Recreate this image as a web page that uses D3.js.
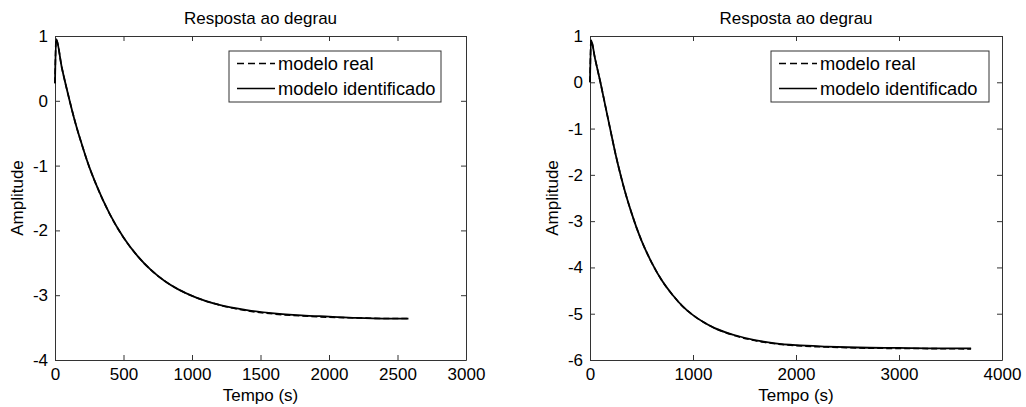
<!DOCTYPE html>
<html>
<head>
<meta charset="utf-8">
<script src="https://cdn.jsdelivr.net/npm/d3@7"></script>
<style>
  html, body { margin: 0; padding: 0; background: #fff; }
  svg { display: block; font-family: "Liberation Sans", Arial, sans-serif; }
</style>
</head>
<body>
<svg id="chart" width="1026" height="407"></svg>
<script>
// Step response, plant A: time (s) and amplitude
const timeA = [0, 8, 50, 100, 150, 200, 250, 300, 400, 500, 600, 700, 800, 900, 1000, 1200, 1400, 1600, 1800, 2000, 2200, 2400, 2580];
const realA = [0.27, 0.95, 0.51, 0.06, -0.35, -0.70, -1.02, -1.29, -1.75, -2.11, -2.39, -2.61, -2.78, -2.91, -3.01, -3.15, -3.24, -3.29, -3.32, -3.34, -3.35, -3.36, -3.36];
const identA = [0.27, 0.95, 0.51, 0.06, -0.35, -0.70, -1.02, -1.29, -1.75, -2.11, -2.39, -2.61, -2.78, -2.91, -3.01, -3.15, -3.23, -3.28, -3.31, -3.33, -3.35, -3.36, -3.36];

// Step response, plant B
const timeB = [0, 10, 50, 100, 150, 200, 250, 300, 350, 400, 450, 500, 600, 700, 800, 900, 1000, 1100, 1200, 1400, 1600, 1800, 2000, 2300, 2600, 3000, 3400, 3700];
const realB = [0.00, 0.91, 0.50, 0.01, -0.52, -1.05, -1.57, -2.03, -2.44, -2.80, -3.13, -3.42, -3.90, -4.29, -4.59, -4.84, -5.03, -5.18, -5.30, -5.47, -5.58, -5.65, -5.69, -5.72, -5.74, -5.75, -5.755, -5.76];
const identB = [0.00, 0.91, 0.50, 0.01, -0.52, -1.05, -1.57, -2.03, -2.44, -2.80, -3.13, -3.42, -3.90, -4.29, -4.59, -4.84, -5.03, -5.18, -5.30, -5.46, -5.57, -5.64, -5.68, -5.71, -5.73, -5.74, -5.75, -5.75];

// Axis ticks
const xTicksA = [0, 500, 1000, 1500, 2000, 2500, 3000];
const yTicksA = [-4, -3, -2, -1, 0, 1];
const xTicksB = [0, 1000, 2000, 3000, 4000];
const yTicksB = [-6, -5, -4, -3, -2, -1, 0, 1];

const titleText = "Resposta ao degrau";
const xLabelText = "Tempo (s)";
const yLabelText = "Amplitude";
const legendLabels = ["modelo real", "modelo identificado"];

const svg = d3.select("#chart");
const FONT = 17;
const LEGEND_FONT = 18.3;
const plainNumber = d => String(d);

function panel(opt) {
  const { left, top, width, height } = opt.box;
  const x = d3.scaleLinear().domain(d3.extent(opt.xTicks)).range([left, left + width]);
  const y = d3.scaleLinear().domain(d3.extent(opt.yTicks)).range([top + height, top]);
  const g = svg.append("g");

  // box with inward ticks on all four sides
  const styleAxis = sel => {
    sel.select(".domain").attr("stroke", "#333").attr("stroke-width", 1);
    sel.selectAll(".tick line").attr("stroke", "#333").attr("stroke-width", 1);
    sel.selectAll("text").attr("font-size", FONT).attr("fill", "#000")
      .attr("font-family", "Liberation Sans, Arial, sans-serif");
  };
  g.append("g").attr("transform", `translate(0,${top + height})`)
    .call(d3.axisBottom(x).tickValues(opt.xTicks).tickFormat(plainNumber)
      .tickSizeInner(-5).tickSizeOuter(0).tickPadding(8))
    .call(styleAxis);
  g.append("g").attr("transform", `translate(0,${top})`)
    .call(d3.axisTop(x).tickValues(opt.xTicks).tickFormat("")
      .tickSizeInner(-5).tickSizeOuter(0))
    .call(styleAxis);
  g.append("g").attr("transform", `translate(${left},0)`)
    .call(d3.axisLeft(y).tickValues(opt.yTicks).tickFormat(plainNumber)
      .tickSizeInner(-5).tickSizeOuter(0).tickPadding(7))
    .call(styleAxis);
  g.append("g").attr("transform", `translate(${left + width},0)`)
    .call(d3.axisRight(y).tickValues(opt.yTicks).tickFormat("")
      .tickSizeInner(-5).tickSizeOuter(0))
    .call(styleAxis);

  // curves
  const line = d3.line().x(d => x(d[0])).y(d => y(d[1])).curve(d3.curveMonotoneX);
  g.append("path")
    .datum(opt.time.map((t, i) => [t, opt.ident[i]]))
    .attr("d", line).attr("fill", "none").attr("stroke", "#000").attr("stroke-width", 1.8);
  g.append("path")
    .datum(opt.time.map((t, i) => [t, opt.real[i]]))
    .attr("d", line).attr("fill", "none").attr("stroke", "#000").attr("stroke-width", 1.6)
    .attr("stroke-dasharray", "6,3");

  // title and labels
  const cx = left + width / 2;
  g.append("text").attr("x", cx).attr("y", 24).attr("text-anchor", "middle")
    .attr("font-size", FONT).text(titleText);
  g.append("text").attr("x", cx).attr("y", 401).attr("text-anchor", "middle")
    .attr("font-size", FONT).text(xLabelText);
  g.append("text").attr("transform", `translate(${opt.yLabelX},${top + height / 2}) rotate(-90)`)
    .attr("text-anchor", "middle").attr("font-size", FONT).text(yLabelText);

  // legend
  const L = opt.legend;
  const lg = g.append("g");
  lg.append("rect").attr("x", L.left).attr("y", 51).attr("width", L.width).attr("height", 51)
    .attr("fill", "#fff").attr("stroke", "#333").attr("stroke-width", 1);
  const rows = [63.5, 88.5];
  legendLabels.forEach((lab, i) => {
    lg.append("line").attr("x1", L.left + 8).attr("x2", L.left + 46)
      .attr("y1", rows[i]).attr("y2", rows[i])
      .attr("stroke", "#000").attr("stroke-width", 1.6)
      .attr("stroke-dasharray", i === 0 ? "7,4" : null);
    lg.append("text").attr("x", L.left + 49).attr("y", rows[i]).attr("dy", "0.35em")
      .attr("font-size", LEGEND_FONT).text(lab);
  });
}

panel({
  box: { left: 55, top: 36, width: 411, height: 324 },
  xTicks: xTicksA, yTicks: yTicksA,
  time: timeA, real: realA, ident: identA,
  yLabelX: 23,
  legend: { left: 229, width: 212 }
});

panel({
  box: { left: 590, top: 36, width: 412, height: 324 },
  xTicks: xTicksB, yTicks: yTicksB,
  time: timeB, real: realB, ident: identB,
  yLabelX: 558,
  legend: { left: 771, width: 218 }
});
</script>
</body>
</html>
